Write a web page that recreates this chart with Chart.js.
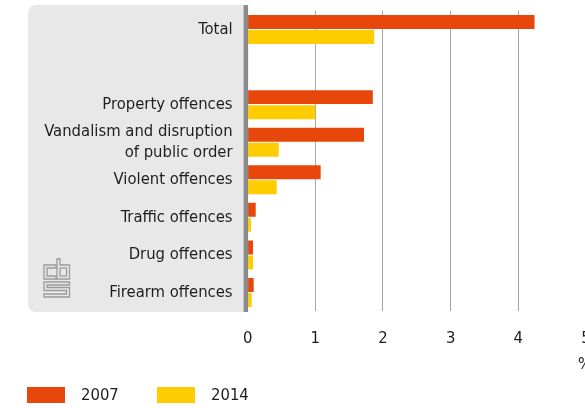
<!DOCTYPE html>
<html>
<head>
<meta charset="utf-8">
<script src="https://cdn.jsdelivr.net/npm/chart.js@4/dist/chart.umd.min.js"></script>
<style>
  html, body { margin: 0; padding: 0; background: #fff; overflow: hidden; }
  #wrap { width: 600px; height: 408px; }
</style>
</head>
<body>
<div id="wrap"><canvas id="chart" width="600" height="408"></canvas></div>
<script>
// --- data ---
const categories = [
  'Total',
  '',
  'Property offences',
  ['Vandalism and disruption', 'of public order'],
  'Violent offences',
  'Traffic offences',
  'Drug offences',
  'Firearm offences'
];
const values2007 = [4.24, null, 1.85, 1.72, 1.08, 0.12, 0.08, 0.09];
const values2014 = [1.87, null, 1.0, 0.46, 0.43, 0.05, 0.08, 0.06];
const xTicks = [0, 1, 2, 3, 4, 5];
const unitLabel = '%';

const FONT = '"DejaVu Sans Condensed", "DejaVu Sans", sans-serif';
const TEXT = '#1e1e1e';
const RED = '#e8470b';
const YELLOW = '#ffcc00';

// outlined "cbs" mark in the bottom-left of the panel
function drawLogo(ctx) {
  const shapes = [
    // c
    [[56, 265], [44, 265], [44, 279], [56, 279], [56, 276], [47, 276], [47, 268], [56, 268]],
    // b
    [[57, 259], [57, 279], [69.5, 279], [69.5, 265], [60, 265], [60, 259]],
    // s
    [[69.5, 282], [44, 282], [44, 290.5], [66.5, 290.5], [66.5, 294], [44, 294], [44, 297], [69.5, 297],
     [69.5, 287.5], [47, 287.5], [47, 285], [69.5, 285]]
  ];
  ctx.save();
  ctx.strokeStyle = '#9a9a9a';
  ctx.lineWidth = 1.3;
  shapes.forEach(pts => {
    ctx.beginPath();
    pts.forEach((p, i) => (i ? ctx.lineTo(p[0], p[1]) : ctx.moveTo(p[0], p[1])));
    ctx.closePath();
    ctx.stroke();
  });
  ctx.strokeRect(60, 268, 6.5, 8);
  ctx.restore();
}

// grey label panel + thick zero axis, drawn behind the bars
const panelPlugin = {
  id: 'panel',
  beforeDraw(chart) {
    const { ctx } = chart;
    const x0 = chart.scales.x.getPixelForValue(0);
    const left = 28, top = 5, bottom = 312, r = 9;
    ctx.save();
    ctx.fillStyle = '#e8e8e8';
    ctx.beginPath();
    ctx.moveTo(x0, top);
    ctx.lineTo(left + r, top);
    ctx.quadraticCurveTo(left, top, left, top + r);
    ctx.lineTo(left, bottom - r);
    ctx.quadraticCurveTo(left, bottom, left + r, bottom);
    ctx.lineTo(x0, bottom);
    ctx.closePath();
    ctx.fill();
    ctx.restore();
    drawLogo(ctx);
  },
  afterDatasetsDraw(chart) {
    const { ctx } = chart;
    const x0 = chart.scales.x.getPixelForValue(0);
    ctx.save();
    ctx.fillStyle = '#8c8c8c';
    ctx.fillRect(x0 - 4, 5, 4.5, 307);
    ctx.restore();
  },
  afterDraw(chart) {
    const { ctx } = chart;
    const x = chart.scales.x;
    ctx.save();
    ctx.font = '16.5px ' + FONT;
    ctx.fillStyle = TEXT;
    ctx.textAlign = 'center';
    ctx.textBaseline = 'middle';
    ctx.fillText(unitLabel, x.getPixelForValue(xTicks[xTicks.length - 1]) - 1, 365);

    // legend
    ctx.textAlign = 'left';
    const starts = [27, 157];
    chart.data.datasets.forEach((ds, i) => {
      ctx.fillStyle = ds.backgroundColor;
      ctx.fillRect(starts[i], 387, 38, 16);
      ctx.fillStyle = TEXT;
      ctx.fillText(ds.label, starts[i] + 54, 396);
    });
    ctx.restore();
  }
};

new Chart(document.getElementById('chart'), {
  type: 'bar',
  data: {
    labels: categories,
    datasets: [
      { label: '2007', data: values2007, backgroundColor: RED },
      { label: '2014', data: values2014, backgroundColor: YELLOW }
    ]
  },
  options: {
    indexAxis: 'y',
    responsive: false,
    animation: false,
    categoryPercentage: 0.8,
    barPercentage: 0.93,
    layout: { padding: { top: 10.7, right: 14, bottom: 0, left: 0 } },
    plugins: { legend: { display: false }, tooltip: { enabled: false } },
    scales: {
      x: {
        min: 0, max: 5,
        afterBuildTicks: s => { s.ticks = xTicks.map(v => ({ value: v })); },
        afterFit: s => { s.height = 408 - 311.3; s.paddingLeft = 0; s.paddingRight = 0; },
        grid: { color: '#a8a8a8', lineWidth: 1, drawTicks: false },
        border: { display: false },
        ticks: { color: TEXT, font: { family: FONT, size: 16.5 }, padding: 18 }
      },
      y: {
        afterFit: s => { s.width = 247.6; s.paddingTop = 0; s.paddingBottom = 0; },
        grid: { display: false, drawTicks: false, tickLength: 0 },
        border: { display: false },
        ticks: {
          color: TEXT, padding: 15, autoSkip: false,
          font: { family: FONT, size: 16.5, lineHeight: 1.28 }
        }
      }
    }
  },
  plugins: [panelPlugin]
});
</script>
</body>
</html>
